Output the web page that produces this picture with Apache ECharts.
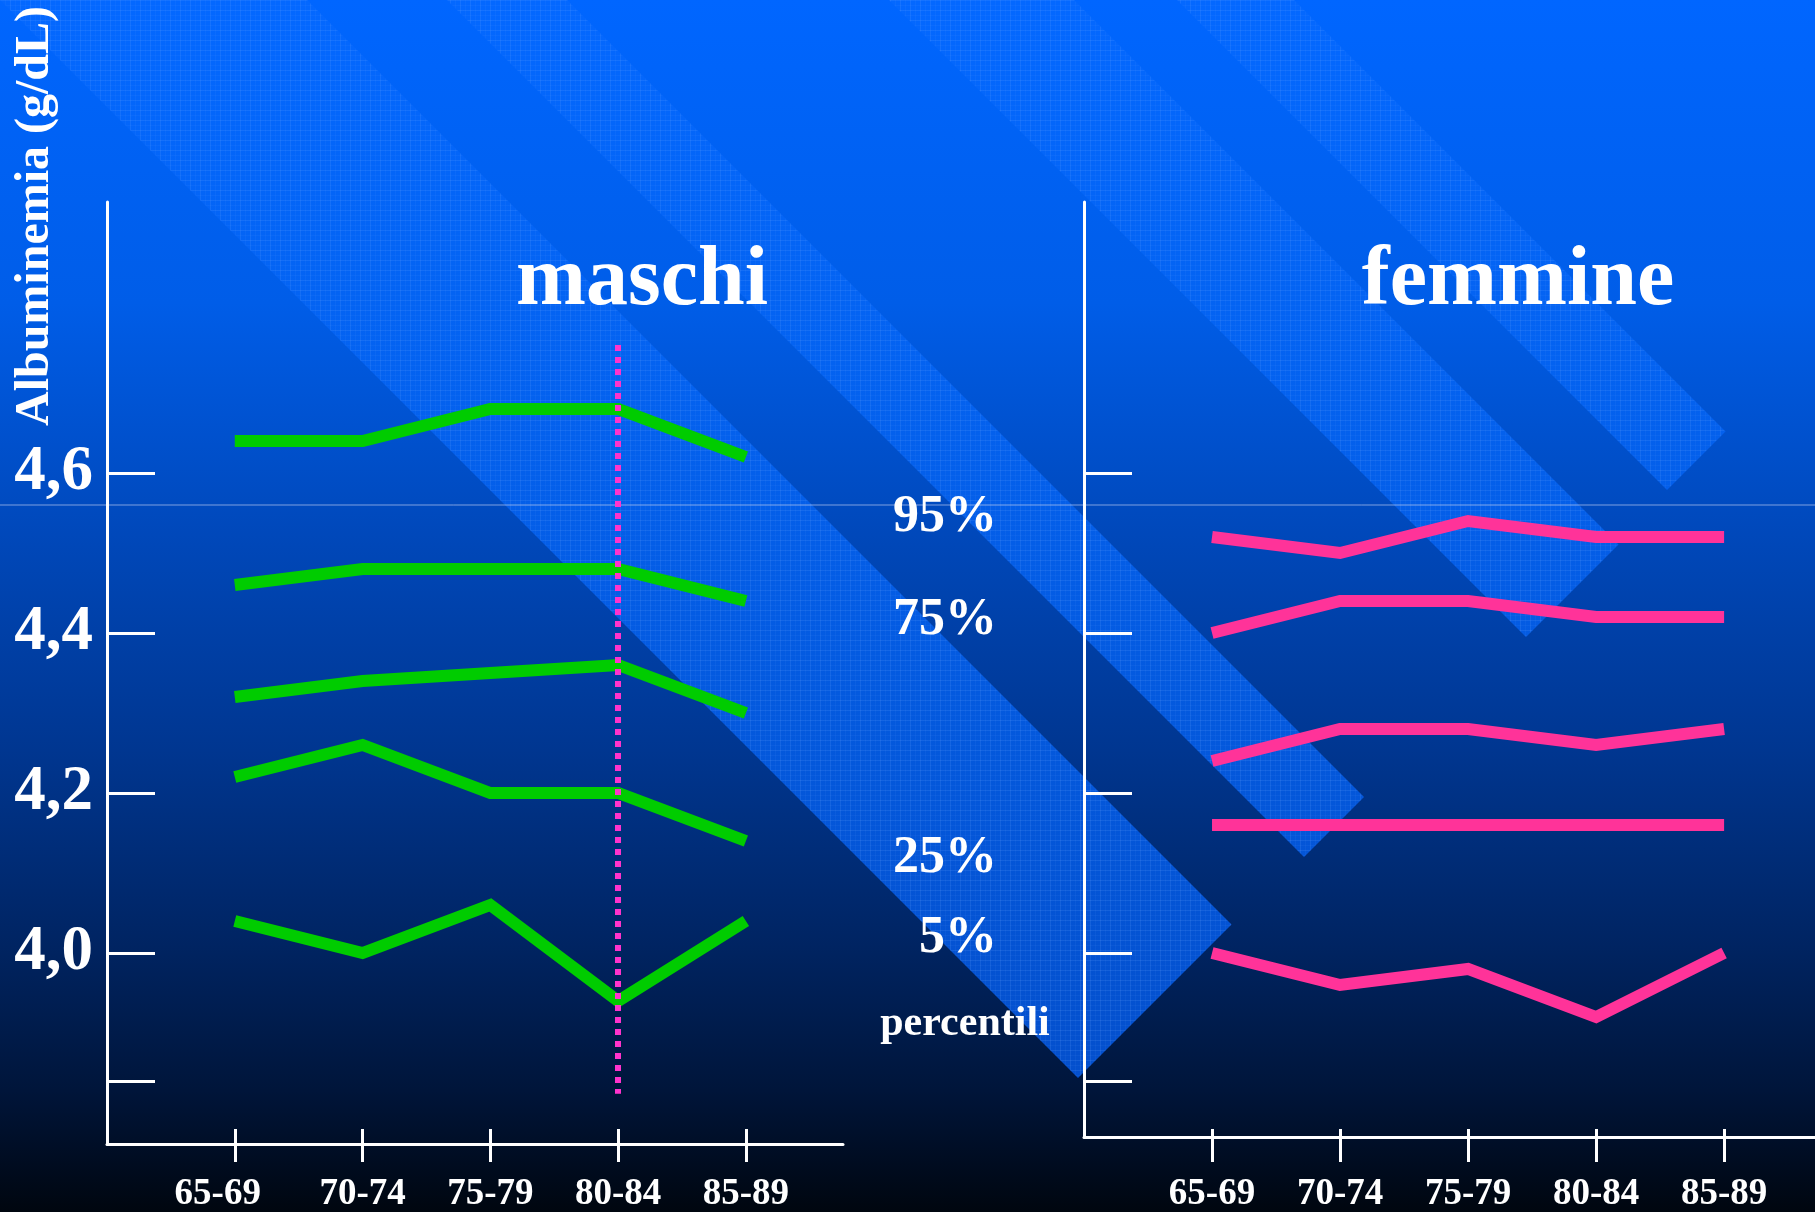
<!DOCTYPE html>
<html>
<head>
<meta charset="utf-8">
<title>Albuminemia per percentili - maschi / femmine</title>
<script src="https://cdn.jsdelivr.net/npm/echarts@6/dist/echarts.min.js"></script>
<style>
  html, body { margin: 0; padding: 0; background: #000; }
  #chart { width: 1815px; height: 1212px; }
</style>
</head>
<body>
<div id="chart"></div>
<script>
// Age groups on the x axis (both panels)
const ageGroups = ['65-69', '70-74', '75-79', '80-84', '85-89'];

// Albuminemia percentiles (g/dL), men
const maschiP95 = [4.64, 4.64, 4.68, 4.68, 4.62];
const maschiP75 = [4.46, 4.48, 4.48, 4.48, 4.44];
const maschiP50 = [4.32, 4.34, 4.35, 4.36, 4.30];
const maschiP25 = [4.22, 4.26, 4.20, 4.20, 4.14];
const maschiP5  = [4.04, 4.00, 4.06, 3.94, 4.04];

// Albuminemia percentiles (g/dL), women
const femmineP95 = [4.52, 4.50, 4.54, 4.52, 4.52];
const femmineP75 = [4.40, 4.44, 4.44, 4.42, 4.42];
const femmineP50 = [4.24, 4.28, 4.28, 4.26, 4.28];
const femmineP25 = [4.16, 4.16, 4.16, 4.16, 4.16];
const femmineP5  = [4.00, 3.96, 3.98, 3.92, 4.00];

// y axis ticks and labels
const yTickValues = [3.84, 4.0, 4.2, 4.4, 4.6];
const yLabelValues = [4.0, 4.2, 4.4, 4.6];
const yTickLabels = ['4,0', '4,2', '4,4', '4,6'];

// dotted marker at the 80-84 group (men)
const markerGroup = '80-84';
const markerSpan = [4.76, 3.824];

// percentile captions
const percentLabels = ['95%', '75%', '25%', '5%'];

const W = 1815, H = 1212;
const chart = echarts.init(document.getElementById('chart'), null, { renderer: 'canvas', width: W, height: H });

const xPos = ageGroups.map((_, i) => i + 1);
const toPoints = arr => arr.map((v, i) => [xPos[i], v]);

const SERIF = '"Liberation Serif", "Times New Roman", "DejaVu Serif", serif';
const GREEN = '#00cc00';
const PINK = '#ff3399';

// faint grid texture for the diagonal bands
const tex = document.createElement('canvas');
tex.width = 10; tex.height = 10;
(function () {
  const c = tex.getContext('2d');
  c.fillStyle = 'rgba(90,150,255,0.04)';
  c.fillRect(0, 0, 10, 10);
  c.fillStyle = 'rgba(110,170,255,0.16)';
  c.fillRect(0, 0, 10, 1);
  c.fillRect(0, 0, 1, 10);
  c.fillStyle = 'rgba(110,170,255,0.07)';
  c.fillRect(0, 5, 10, 1);
  c.fillRect(5, 0, 1, 10);
})();

const bandFill = {
  type: 'linear', x: 0, y: 0, x2: 0, y2: H, global: true,
  colorStops: [
    { offset: 0, color: '#0066ff' },
    { offset: 0.3, color: '#0060f0' },
    { offset: 0.6, color: '#0056dc' },
    { offset: 0.9, color: '#004cca' },
    { offset: 1, color: '#0048c4' }
  ]
};

// diagonal bands: lower edge y = x - a, upper edge y = x - b, square cut at xEnd
function band(a, b, xEnd) {
  const top = -30;
  const yEnd = xEnd - a;
  const d = (b - a) / 2;
  return [[top + a, top], [top + b, top], [xEnd + d, yEnd - d], [xEnd, yEnd]];
}
const bands = [band(0, 307, 1078), band(447, 567, 1304), band(889, 1074, 1526), band(1177, 1294, 1667)];

const graphics = [];
bands.forEach(pts => {
  graphics.push({ type: 'polygon', z: -20, silent: true, shape: { points: pts }, style: { fill: bandFill } });
  graphics.push({ type: 'polygon', z: -19, silent: true, shape: { points: pts }, style: { fill: { image: tex, repeat: 'repeat' } } });
});
graphics.push({
  type: 'line', z: -18, silent: true,
  shape: { x1: 0, y1: 505, x2: W, y2: 505 },
  style: { stroke: 'rgba(170,190,235,0.75)', lineWidth: 1 }
});

function txt(text, x, y, size, align) {
  return {
    type: 'text', z: 10, silent: true, x, y,
    style: { text, x: 0, y: 0, fill: '#ffffff', font: 'bold ' + size + 'px ' + SERIF, align: align || 'center', verticalAlign: 'middle' }
  };
}

const yName = txt('Albuminemia (g/dL)', 36, 216, 48, 'center');
yName.rotation = Math.PI / 2;
graphics.push(yName);
graphics.push(txt('maschi', 642, 282, 84));
graphics.push(txt('femmine', 1518, 282, 84));
const pctY = [518, 621, 859, 939];
percentLabels.forEach((t, i) => graphics.push(txt(t, 997, pctY[i], 52, 'right')));
graphics.push(txt('percentili', 965, 1024, 42));

const labelFont = { color: '#fff', fontFamily: SERIF, fontWeight: 'bold', fontSize: 37, lineHeight: 37 };

function xAxisMain(gridIndex, max, tickLen, labelMargin, firstShift) {
  return {
    type: 'value', gridIndex, min: 0, max, position: 'bottom',
    splitLine: { show: false },
    axisLine: { show: true, lineStyle: { color: '#fff', width: 3 } },
    axisTick: { show: true, inside: false, length: tickLen, customValues: xPos, lineStyle: { color: '#fff', width: 3 } },
    axisLabel: Object.assign({
      show: true, customValues: xPos, margin: labelMargin,
      formatter: v => {
        const i = Math.round(v) - 1;
        return (i === 0 && firstShift) ? '{s|' + ageGroups[i] + '}' : ageGroups[i];
      },
      rich: { s: Object.assign({ padding: [0, firstShift || 0, 0, 0] }, labelFont) }
    }, labelFont)
  };
}
function xAxisInnerTicks(gridIndex, max, tickLen) {
  return {
    type: 'value', gridIndex, min: 0, max, position: 'bottom',
    splitLine: { show: false },
    axisLine: { show: false },
    axisTick: { show: true, inside: true, length: tickLen, customValues: xPos, lineStyle: { color: '#fff', width: 3 } },
    axisLabel: { show: false }
  };
}
function yAxisOf(gridIndex, min, max, showLabels) {
  return {
    type: 'value', gridIndex, min, max,
    splitLine: { show: false },
    axisLine: { show: true, lineStyle: { color: '#fff', width: 3 } },
    axisTick: { show: true, inside: true, length: 48, customValues: yTickValues, lineStyle: { color: '#fff', width: 3 } },
    axisLabel: {
      show: showLabels, customValues: yLabelValues, margin: 14,
      color: '#fff', fontFamily: SERIF, fontWeight: 'bold', fontSize: 63,
      formatter: v => {
        const i = yLabelValues.findIndex(t => Math.abs(t - v) < 1e-6);
        return i >= 0 ? yTickLabels[i] : '';
      }
    }
  };
}

function lineSeries(name, data, color, xi, yi) {
  return {
    type: 'line', name, xAxisIndex: xi, yAxisIndex: yi,
    data: toPoints(data), symbol: 'none', z: 3, silent: true, animation: false,
    lineStyle: { color, width: 12, cap: 'butt', join: 'miter' }
  };
}

const markerX = ageGroups.indexOf(markerGroup) + 1;

const option = {
  animation: false,
  backgroundColor: {
    type: 'linear', x: 0, y: 0, x2: 0, y2: 1,
    colorStops: [
      { offset: 0, color: '#0066ff' },
      { offset: 0.25, color: '#005de8' },
      { offset: 0.45, color: '#0047b8' },
      { offset: 0.62, color: '#003690' },
      { offset: 0.78, color: '#002462' },
      { offset: 0.9, color: '#00153a' },
      { offset: 1, color: '#00060f' }
    ]
  },
  grid: [
    { left: 107, top: 202, width: 736, height: 942, outerBoundsMode: 'none', containLabel: false },
    { left: 1084, top: 202, width: 731, height: 935, outerBoundsMode: 'none', containLabel: false }
  ],
  xAxis: [
    xAxisMain(0, 5.76, 18, 32, 34),
    xAxisInnerTicks(0, 5.76, 15),
    xAxisMain(1, 5.71, 25, 39, 0),
    xAxisInnerTicks(1, 5.71, 8)
  ],
  yAxis: [
    yAxisOf(0, 3.76125, 4.93875, true),
    yAxisOf(1, 3.77, 4.93875, false)
  ],
  graphic: { elements: graphics },
  series: [
    lineSeries('maschi 95°', maschiP95, GREEN, 0, 0),
    lineSeries('maschi 75°', maschiP75, GREEN, 0, 0),
    lineSeries('maschi 50°', maschiP50, GREEN, 0, 0),
    lineSeries('maschi 25°', maschiP25, GREEN, 0, 0),
    lineSeries('maschi 5°', maschiP5, GREEN, 0, 0),
    lineSeries('femmine 95°', femmineP95, PINK, 2, 1),
    lineSeries('femmine 75°', femmineP75, PINK, 2, 1),
    lineSeries('femmine 50°', femmineP50, PINK, 2, 1),
    lineSeries('femmine 25°', femmineP25, PINK, 2, 1),
    lineSeries('femmine 5°', femmineP5, PINK, 2, 1),
    {
      type: 'line', name: 'marker', xAxisIndex: 0, yAxisIndex: 0, data: [], z: 6, silent: true,
      markLine: {
        silent: true, animation: false, symbol: ['none', 'none'],
        label: { show: false },
        lineStyle: { color: '#ff33cc', width: 6, type: [6, 6] },
        data: [[{ coord: [markerX, markerSpan[0]] }, { coord: [markerX, markerSpan[1]] }]]
      }
    }
  ]
};

chart.setOption(option);
</script>
</body>
</html>
